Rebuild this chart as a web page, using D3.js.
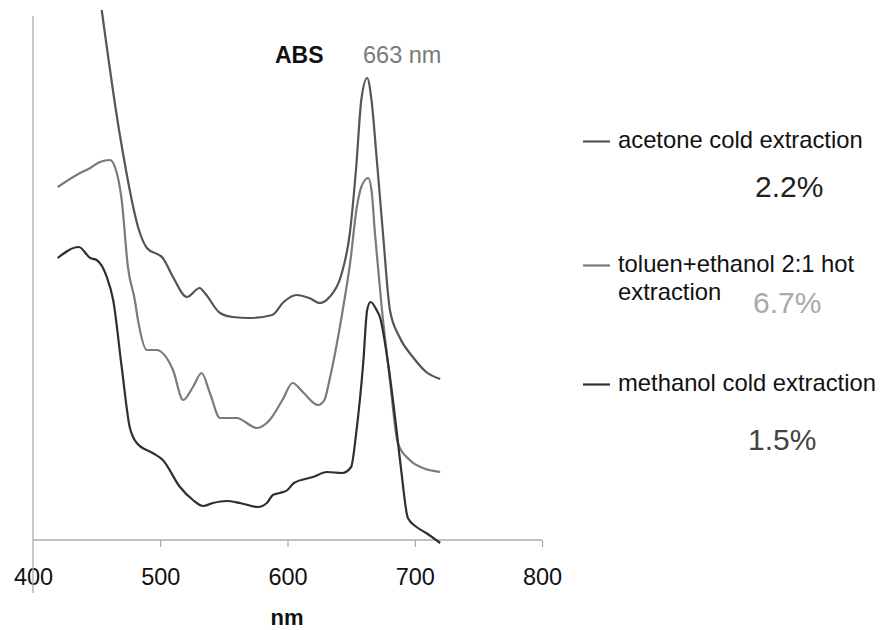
<!DOCTYPE html>
<html>
<head>
<meta charset="utf-8">
<script src="https://cdn.jsdelivr.net/npm/d3@7"></script>
<style>
  html, body { margin: 0; padding: 0; background: #fff; }
  svg text { font-family: "Liberation Sans", Arial, Helvetica, sans-serif; }
</style>
</head>
<body>
<svg id="chart" width="881" height="630"></svg>
<script>
// ---- data (wavelength nm, absorbance in arbitrary units) ----
const seriesNames = ["acetone cold extraction", "toluen+ethanol 2:1 hot extraction", "methanol cold extraction"];
const legendLines = [["acetone cold extraction"], ["toluen+ethanol 2:1 hot", "extraction"], ["methanol cold extraction"]];
const yieldLabels = ["2.2%", "6.7%", "1.5%"];
const xTicks = [400, 500, 600, 700, 800];

const acetone = [
  [454, 1.060], [468, 0.814], [484, 0.614], [489.5, 0.584], [502, 0.564], [510, 0.526],
  [521, 0.486], [531, 0.504], [535, 0.494], [547, 0.454], [557, 0.446], [570, 0.444],
  [588, 0.450], [597, 0.476], [607, 0.490], [617, 0.484], [625.5, 0.474], [633, 0.486],
  [642, 0.528], [649, 0.614], [654, 0.746], [658, 0.880], [662.6, 0.924], [666, 0.880],
  [670, 0.766], [675, 0.614], [680.5, 0.460], [688, 0.406], [698.5, 0.366], [709, 0.336],
  [720, 0.322]
];
const toluenEthanol = [
  [419.4, 0.706], [437, 0.734], [445, 0.744], [452.6, 0.756], [460.5, 0.760], [464.4, 0.746],
  [469.7, 0.680], [474.6, 0.546], [480, 0.480], [482.5, 0.440], [489.5, 0.380], [497, 0.380],
  [510, 0.340], [518, 0.280], [525.7, 0.306], [532.5, 0.334], [539, 0.294], [547, 0.244],
  [560, 0.244], [576, 0.224], [586, 0.240], [596, 0.280], [604, 0.314], [612, 0.296],
  [624, 0.270], [629, 0.280], [633, 0.320], [641, 0.424], [646, 0.500], [649, 0.550],
  [654.5, 0.666], [658, 0.706], [663.4, 0.724], [666, 0.700], [668.7, 0.614], [674, 0.466],
  [680.5, 0.320], [686.7, 0.194], [696, 0.160], [706.5, 0.144], [720, 0.136]
];
const methanol = [
  [419.4, 0.564], [436, 0.586], [445, 0.564], [450, 0.560], [458, 0.526], [463, 0.480],
  [469.7, 0.346], [476, 0.226], [481.6, 0.194], [494, 0.174], [502, 0.160], [515.5, 0.106],
  [525.7, 0.080], [533.5, 0.068], [541.4, 0.074], [552, 0.078], [562.6, 0.074], [576.7, 0.066],
  [583.8, 0.074], [588.5, 0.090], [594, 0.094], [600, 0.100], [605, 0.114], [620, 0.126],
  [631, 0.136], [643, 0.134], [650, 0.146], [654, 0.214], [659.5, 0.354], [662.6, 0.460],
  [665.3, 0.476], [670, 0.460], [672.6, 0.446], [679, 0.354], [685.7, 0.220], [689.6, 0.134],
  [694.6, 0.044], [701.4, 0.026], [709, 0.014], [720, -0.006]
];
const allSeries = [acetone, toluenEthanol, methanol];

// ---- styling ----
const lineColors = ["#555555", "#7a7a7a", "#2f2f2f"];
const yieldColors = ["#222222", "#a9a9a9", "#444444"];
const font = "'Liberation Sans', Arial, sans-serif";

const svg = d3.select("#chart");
const x = d3.scaleLinear().domain([400, 800]).range([33, 542]);
const y = d3.scaleLinear().domain([0, 1]).range([540, 40]);

// axes
const axisColor = "#ababab";
const xAxis = d3.axisBottom(x).tickValues(xTicks).tickSize(7).tickPadding(21).tickFormat(d3.format("d"));
const gx = svg.append("g").attr("transform", `translate(0,${y(0)})`).call(xAxis);
gx.select(".domain").attr("stroke", axisColor).attr("stroke-width", 1.3).attr("d", `M${x(400)},0H${x(800)}`);
gx.selectAll(".tick line").attr("stroke", axisColor).attr("stroke-width", 1.3);
gx.selectAll(".tick").filter(d => d === 400).select("line").remove();
gx.selectAll(".tick text").attr("font-size", 23.5).attr("fill", "#111").attr("font-family", font).attr("dy", "0.71em");

// y axis line (extends below the x axis through the 400 label)
svg.append("line")
  .attr("x1", x(400)).attr("x2", x(400))
  .attr("y1", 16).attr("y2", 593)
  .attr("stroke", axisColor).attr("stroke-width", 1.3);

// series
const line = d3.line().x(d => x(d[0])).y(d => y(d[1])).curve(d3.curveMonotoneX);
svg.selectAll("path.series").data(allSeries).enter().append("path")
  .attr("class", "series")
  .attr("d", line)
  .attr("fill", "none")
  .attr("stroke", (d, i) => lineColors[i])
  .attr("stroke-width", 2.2)
  .attr("stroke-linejoin", "round");

// titles
svg.append("text").attr("x", 275).attr("y", 63).attr("font-size", 23).attr("font-weight", "bold")
  .attr("fill", "#111").text("ABS");
svg.append("text").attr("x", 363).attr("y", 63).attr("font-size", 23.5)
  .attr("fill", "#7a7a7a").text("663 nm");
svg.append("text").attr("x", 287).attr("y", 625).attr("font-size", 22).attr("font-weight", "bold")
  .attr("text-anchor", "middle").attr("fill", "#111").text("nm");

// legend
const legendY = [148, 272, 391];
const yieldPos = [[755, 197], [753, 313], [748, 450]];
const lg = svg.append("g");
seriesNames.forEach((name, i) => {
  lg.append("line").attr("x1", 583).attr("x2", 610)
    .attr("y1", legendY[i] - 6.5).attr("y2", legendY[i] - 6.5)
    .attr("stroke", lineColors[i]).attr("stroke-width", 2.2);
  const t = lg.append("text").attr("x", 618).attr("y", legendY[i]).attr("font-size", 23.8).attr("fill", "#111");
  legendLines[i].forEach((ln, j) => {
    t.append("tspan").attr("x", 618).attr("dy", j === 0 ? 0 : 28).text(ln);
  });
  lg.append("text").attr("x", yieldPos[i][0]).attr("y", yieldPos[i][1])
    .attr("font-size", 30).attr("fill", yieldColors[i]).text(yieldLabels[i]);
});
</script>
</body>
</html>
